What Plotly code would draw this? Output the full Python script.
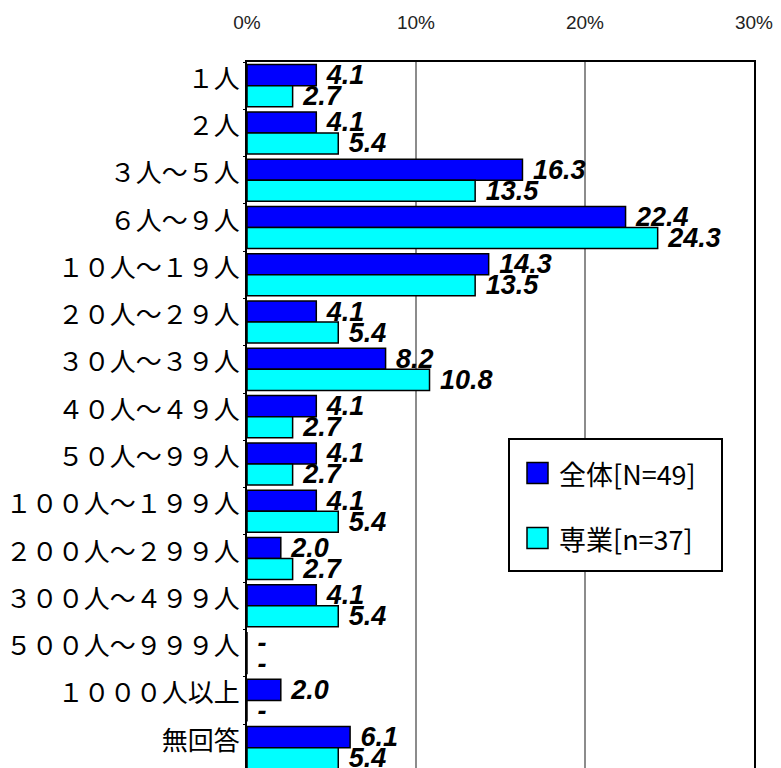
import plotly.graph_objects as go

categories = ["１人", "２人", "３人～５人", "６人～９人", "１０人～１９人", "２０人～２９人",
              "３０人～３９人", "４０人～４９人", "５０人～９９人", "１００人～１９９人",
              "２００人～２９９人", "３００人～４９９人", "５００人～９９９人", "１０００人以上", "無回答"]
series_names = ["全体[N=49]", "専業[n=37]"]
zentai = [4.1, 4.1, 16.3, 22.4, 14.3, 4.1, 8.2, 4.1, 4.1, 4.1, 2.0, 4.1, 0.0, 2.0, 6.1]
sengyo = [2.7, 5.4, 13.5, 24.3, 13.5, 5.4, 10.8, 2.7, 2.7, 5.4, 2.7, 5.4, 0.0, 0.0, 5.4]
x_ticks = [0, 10, 20, 30]
x_tick_labels = ["0%", "10%", "20%", "30%"]

colors = ["#0000FF", "#00FFFF"]

W, H = 781, 768
L, R, T, B = 247, 27, 62, 0
PW, PH = W - L - R, H - T - B


def px2paper(xp, yp):
    return (xp - L) / PW, (H - B - yp) / PH


def lab(v):
    return "\u00a0" + (f"{v:.1f}" if v > 0 else "-")


fig = go.Figure()
for name, vals, col in zip(series_names, [zentai, sengyo], colors):
    fig.add_trace(go.Bar(
        y=categories, x=vals, orientation="h", name=name,
        marker=dict(color=col, line=dict(color="#000000", width=1.5)),
        text=[lab(v) for v in vals], textposition="outside",
        textfont=dict(family="Liberation Sans, Arial", size=27, color="#000000",
                      weight="bold", style="italic"),
        constraintext="none", cliponaxis=False, showlegend=False,
    ))

fig.update_layout(
    width=W, height=H,
    margin=dict(l=L, r=R, t=T, b=B, pad=0),
    paper_bgcolor="#FFFFFF", plot_bgcolor="#FFFFFF",
    barmode="group", bargap=0.11, bargroupgap=0.0,
    font=dict(family="Noto Sans CJK JP", color="#000000"),
    xaxis=dict(
        side="top", range=[0, 30], tickvals=x_ticks, ticktext=x_tick_labels,
        showgrid=True, gridcolor="#8c8c8c", gridwidth=1.5,
        showline=True, linecolor="#000000", linewidth=1.5, mirror=False,
        ticks="", ticklabelstandoff=24,
        tickfont=dict(family="Liberation Sans, Arial", size=19, color="#222222"),
        zeroline=False, fixedrange=True,
    ),
    yaxis=dict(
        type="category", categoryorder="array", categoryarray=categories,
        range=[14.43, -0.5],
        showline=True, linecolor="#000000", linewidth=2, mirror=True,
        ticks="outside", ticklen=2, tickcolor="#000000", tickson="boundaries",
        showgrid=False, zeroline=False,
        tickfont=dict(family="Noto Sans CJK JP", size=26, color="#000000"),
        ticklabelstandoff=0, ticklabelshift=7, fixedrange=True,
    ),
)

# legend box drawn as shapes + text
bx0, by1 = px2paper(509, 439)
bx1, by0 = px2paper(722, 571)
fig.add_shape(type="rect", xref="paper", yref="paper", x0=bx0, x1=bx1, y0=by0, y1=by1,
              line=dict(color="#000000", width=2), fillcolor="#FFFFFF", layer="above")
item_centers = [473, 538]
for name, col, cy in zip(series_names, colors, item_centers):
    sx0, sy1 = px2paper(527, cy - 10.5)
    sx1, sy0 = px2paper(548, cy + 10.5)
    fig.add_shape(type="rect", xref="paper", yref="paper", x0=sx0, x1=sx1, y0=sy0, y1=sy1,
                  line=dict(color="#000000", width=1.5), fillcolor=col, layer="above")
    tx, ty = px2paper(557, cy)
    fig.add_annotation(xref="paper", yref="paper", x=tx, y=ty, text=name,
                       xanchor="left", yanchor="middle", showarrow=False,
                       font=dict(family="Noto Sans CJK JP", size=27, color="#000000"))

fig.write_html("out.html")
